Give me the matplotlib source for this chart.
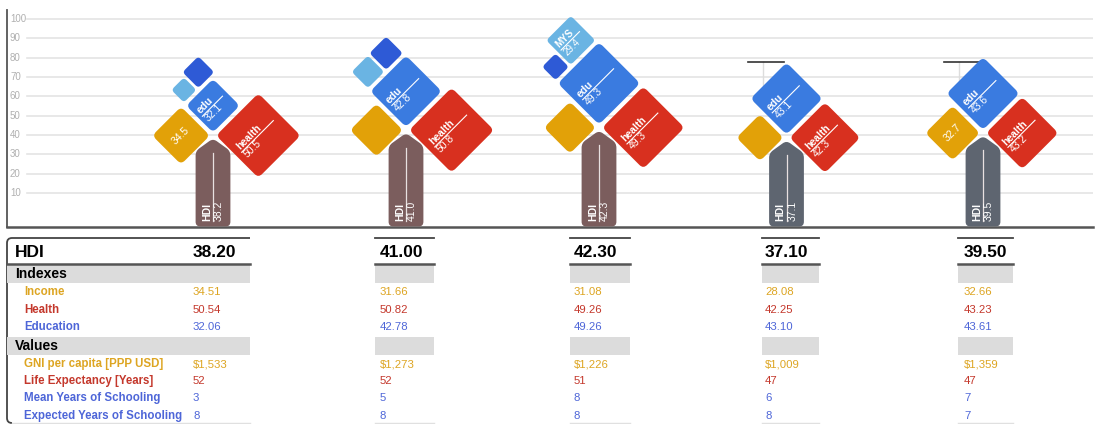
import numpy as np
import matplotlib
matplotlib.use('Agg')
import matplotlib.pyplot as plt
from matplotlib.path import Path
from matplotlib.patches import PathPatch, Rectangle

plt.rcParams['font.family'] = ['Liberation Sans', 'DejaVu Sans']

# data
hdi = [38.20, 41.00, 42.30, 37.10, 39.50]
income = [34.51, 31.66, 31.08, 28.08, 32.66]
health = [50.54, 50.82, 49.26, 42.25, 43.23]
education = [32.06, 42.78, 49.26, 43.10, 43.61]
mys_idx = [15.0, 19.5, 29.4, None, None]
eys_idx = [19.0, 20.0, 16.0, None, None]
gni = ['$1,533', '$1,273', '$1,226', '$1,009', '$1,359']
life_exp = [52, 52, 51, 47, 47]
mean_school = [3, 5, 8, 6, 7]
exp_school = [8, 8, 8, 8, 7]
yticks = [10, 20, 30, 40, 50, 60, 70, 80, 90, 100]

c_inc = '#E2A108'
c_hea = '#D8301F'
c_edu = '#3A7BE0'
c_mys = '#6AB4E3'
c_eys = '#2E5AD6'
trunk_cols = ['#7B5D5D', '#7B5D5D', '#7B5D5D', '#5E6570', '#5E6570']
t_inc = '#DDA522'
t_hea = '#C4382C'
t_edu = '#4E66D8'

PX = 1.933  # pixels per value unit
fig = plt.figure(figsize=(10.95, 4.24), dpi=100, facecolor='white')
ax = fig.add_axes([7/1095, (424-227)/424, 1086/1095, 217/424])
ax.set_ylim(-(227-212.3)/PX, (212.3-10)/PX)
ax.set_xlim(0, 1086/PX)

def xu(px):
    return (px-7)/PX

tree_x = [xu(p) for p in (213, 406, 599, 786.5, 983)]


def rpoly(pts, r):
    pts = np.asarray(pts, float)
    n = len(pts)
    verts, codes = [], []
    for i in range(n):
        p0 = pts[i-1]; p1 = pts[i]; p2 = pts[(i+1) % n]
        d1 = p0-p1; d1 = d1/np.hypot(*d1)
        d2 = p2-p1; d2 = d2/np.hypot(*d2)
        verts.append(p1+d1*r)
        codes.append(Path.MOVETO if i == 0 else Path.LINETO)
        verts += [p1, p1+d2*r]
        codes += [Path.CURVE3, Path.CURVE3]
    verts.append(verts[0]); codes.append(Path.CLOSEPOLY)
    return Path(verts, codes)


def diamond(cx, cy, D, color, r=2.8):
    pts = [(cx, cy-D/2), (cx+D/2, cy), (cx, cy+D/2), (cx-D/2, cy)]
    ax.add_patch(PathPatch(rpoly(pts, r), fc=color, ec='none', zorder=3))


def frac(cx, cy, D, top, bot, ang=45, fs=7.5):
    a = np.radians(ang)
    e1 = np.array([np.cos(a), np.sin(a)])
    e2 = np.array([-np.sin(a), np.cos(a)])
    c = np.array([cx, cy])
    s0, s1 = -0.28*D, 0.25*D
    p0 = c+s0*e1; p1 = c+s1*e1
    ax.plot([p0[0], p1[0]], [p0[1], p1[1]], color='white', lw=0.8, zorder=4)
    pt = c+s0*e1+0.3*e2
    pb = c+s0*e1-0.3*e2
    ax.text(pt[0], pt[1], top, color='white', fontsize=fs, fontweight='bold',
            rotation=ang, rotation_mode='anchor', ha='left', va='bottom', zorder=5)
    ax.text(pb[0], pb[1], bot, color='white', fontsize=fs,
            rotation=ang, rotation_mode='anchor', ha='left', va='top', zorder=5)


def f1(v):
    return '%.1f' % (np.floor(v*10+0.5)/10)


# grid + tick labels
x_end = 1086/PX
for t in yticks:
    ax.plot([xu(27), x_end], [t, t], color='#E4E4E4', lw=1.2, zorder=0)
    ax.text(xu(10), t, str(t), color='#B0B0B0', fontsize=7, ha='left', va='center')

K = 0.865
g = 1.6
u = np.array([1, 1])/np.sqrt(2)
nrm = np.array([-1, 1])/np.sqrt(2)
ybot = -7.3
for i, tx in enumerate(tree_x):
    h = hdi[i]
    py = h+1.5
    # trunk
    hw = 9.0
    pts = [(tx-hw, ybot), (tx+hw, ybot), (tx+hw, h-6.5), (tx, h), (tx-hw, h-6.5)]
    ax.add_patch(PathPatch(rpoly(pts, 2.4), fc=trunk_cols[i], ec='none', zorder=3, clip_on=False))
    ax.plot([tx, tx], [-4.6, h-7.5], color='#E8E0E0', lw=0.9, zorder=4)
    ax.text(tx-0.4, -4.6, 'HDI', color='white', fontsize=7.5, fontweight='bold',
            rotation=90, rotation_mode='anchor', ha='left', va='bottom', zorder=5)
    ax.text(tx+0.4, -4.6, f1(h), color='white', fontsize=7.5,
            rotation=90, rotation_mode='anchor', ha='left', va='top', zorder=5)

    # income
    D = K*income[i]
    cx = tx-g-D/2
    diamond(cx, py, D, c_inc)
    if income[i] > 32:
        ax.text(cx, py, f1(income[i]), color='white', fontsize=7.5, rotation=45,
                rotation_mode='anchor', ha='center', va='center', zorder=5)
    # health
    D = K*health[i]
    cx = tx+g+D/2
    diamond(cx, py, D, c_hea)
    frac(cx, py, D, 'health', f1(health[i]))
    # education
    De = K*education[i]
    cy = py+g+De/2
    diamond(tx, cy, De, c_edu)
    frac(tx, cy, De, 'edu', f1(education[i]))

    # sub-indexes on the upper-left edge of edu
    if mys_idx[i] is not None:
        L = np.array([tx-De/2, cy])
        subs = [(mys_idx[i], c_mys, 'MYS'), (eys_idx[i], c_eys, 'EYS')]
        subs.sort(key=lambda s: s[0])
        t = 0.3
        for val, col, lab in subs:
            Ds = K*val
            a = Ds/np.sqrt(2)
            c = L+(t+a/2)*u+(a/2+2.0)*nrm
            diamond(c[0], c[1], Ds, col, r=2.0)
            if val > 25:
                frac(c[0], c[1], Ds, lab, f1(val), fs=7)
            t += a+1.4
    else:
        ax.plot([tx-20, tx-1.5], [77.8, 77.8], color='#333333', lw=1.2, zorder=2)
        ax.plot([tx-12.2, tx-12.2], [77.8, 66], color='#DDDDDD', lw=1, zorder=1)

for s in ['top', 'right']:
    ax.spines[s].set_visible(False)
ax.spines['left'].set_color('#555555')
ax.spines['left'].set_linewidth(1.3)
ax.spines['bottom'].set_color('#555555')
ax.spines['bottom'].set_linewidth(1.8)
ax.set_xticks([])
ax.set_yticks([])

# table
tab = fig.add_axes([0, 0, 1, 194/424])
tab.set_xlim(0, 1095)
tab.set_ylim(424, 230)
tab.axis('off')

col_x0 = [7, 375, 570, 762, 958]
col_x1 = [250, 434, 630, 819, 1013]
val_x = [193, 380, 574, 765, 964]

# first column frame
fr = Path([(250, 238), (12, 238), (7, 238), (7, 243), (7, 418), (7, 423), (12, 423)],
          [Path.MOVETO, Path.LINETO, Path.CURVE3, Path.CURVE3, Path.LINETO, Path.CURVE3, Path.CURVE3])
tab.add_patch(PathPatch(fr, fc='none', ec='#444444', lw=1.3))

for j in range(5):
    x0, x1 = col_x0[j], col_x1[j]
    if j > 0:
        tab.plot([x0, x1], [238, 238], color='#444444', lw=1.3)
    tab.plot([x0, x1], [263.5, 263.5], color='#555555', lw=1.8)
    tab.add_patch(Rectangle((x0, 264.5), x1-x0, 18.5, fc='#DCDCDC', ec='none'))
    tab.add_patch(Rectangle((x0, 336.5), x1-x0, 18.5, fc='#DCDCDC', ec='none'))
    tab.plot([x0+5 if j == 0 else x0, x1], [423, 423], color='#E0E0E0', lw=1)

    vx = val_x[j]
    tab.text(vx, 252, '%.2f' % hdi[j], fontsize=12.5, fontweight='bold', color='black', ha='left', va='center')
    tab.text(vx, 292, '%.2f' % income[j], fontsize=8.2, color=t_inc, ha='left', va='center')
    tab.text(vx, 309.5, '%.2f' % health[j], fontsize=8.2, color=t_hea, ha='left', va='center')
    tab.text(vx, 327, '%.2f' % education[j], fontsize=8.2, color=t_edu, ha='left', va='center')
    tab.text(vx, 364, gni[j], fontsize=8.2, color=t_inc, ha='left', va='center')
    tab.text(vx, 381, str(life_exp[j]), fontsize=8.2, color=t_hea, ha='left', va='center')
    tab.text(vx, 398, str(mean_school[j]), fontsize=8.2, color=t_edu, ha='left', va='center')
    tab.text(vx, 416, str(exp_school[j]), fontsize=8.2, color=t_edu, ha='left', va='center')

tab.text(15, 252, 'HDI', fontsize=12.5, fontweight='bold', color='black', ha='left', va='center')
tab.text(15, 273.5, 'Indexes', fontsize=10, fontweight='bold', color='black', ha='left', va='center')
tab.text(15, 346, 'Values', fontsize=10, fontweight='bold', color='black', ha='left', va='center')
rows = [('Income', 292, t_inc), ('Health', 309.5, t_hea), ('Education', 327, t_edu),
        ('GNI per capita [PPP USD]', 364, t_inc), ('Life Expectancy [Years]', 381, t_hea),
        ('Mean Years of Schooling', 398, t_edu), ('Expected Years of Schooling', 416, t_edu)]
for lab, y, col in rows:
    tab.text(24, y, lab, fontsize=8.3, fontweight='bold', color=col, ha='left', va='center')

fig.savefig('out.png', dpi=100, facecolor='white')
